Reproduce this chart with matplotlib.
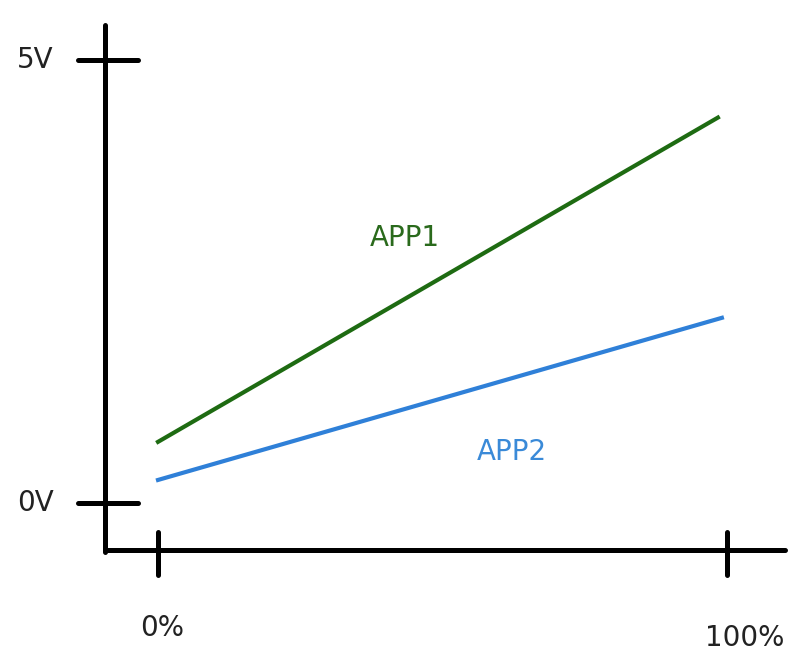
import matplotlib
matplotlib.use("Agg")
import matplotlib.pyplot as plt

# throttle position (%) vs sensor voltage (V)
pct = [0, 98.4]
app1 = [0.69, 4.35]
pct2 = [0, 99.1]
app2 = [0.26, 2.09]

y_ticks = [0, 5]
y_labels = ["0V", "5V"]
x_ticks = [0, 100]
x_labels = ["0%", "100%"]

fig = plt.figure(figsize=(7.9, 6.6), dpi=100)
ax = fig.add_axes([0, 0, 1, 1])
ax.set_xlim(-27.77, 111.07)
ax.set_ylim(-1.772, 5.677)
ax.axis("off")

axcol = "black"
# hand-drawn style axes
ax.plot([-9.31, -9.31], [5.40, -0.55], color=axcol, lw=3.6, solid_capstyle="round")
ax.plot([-9.31, 110.2], [-0.53, -0.53], color=axcol, lw=3.6, solid_capstyle="round")

for v, lab in zip(y_ticks, y_labels):
    ax.plot([-14.1, -3.5], [v, v], color=axcol, lw=3.6, solid_capstyle="round")
    ax.text(-21.6, v, lab, fontsize=20, ha="center", va="center", color="#222222")

for p, lab in zip(x_ticks, x_labels):
    ax.plot([p, p], [-0.33, -0.81], color=axcol, lw=3.6, solid_capstyle="round")
ax.text(0.7, -1.41, x_labels[0], fontsize=20, ha="center", va="center", color="#222222")
ax.text(110.0, -1.52, x_labels[1], fontsize=20, ha="right", va="center", color="#222222")

ax.plot(pct, app1, color="#1e6b12", lw=3)
ax.plot(pct2, app2, color="#2f80d8", lw=3)

ax.text(43.4, 2.99, "APP1", fontsize=20, ha="center", va="center", color="#2a6a1c")
ax.text(62.2, 0.58, "APP2", fontsize=20, ha="center", va="center", color="#3a8ad8")

fig.savefig("out.png", dpi=100)
